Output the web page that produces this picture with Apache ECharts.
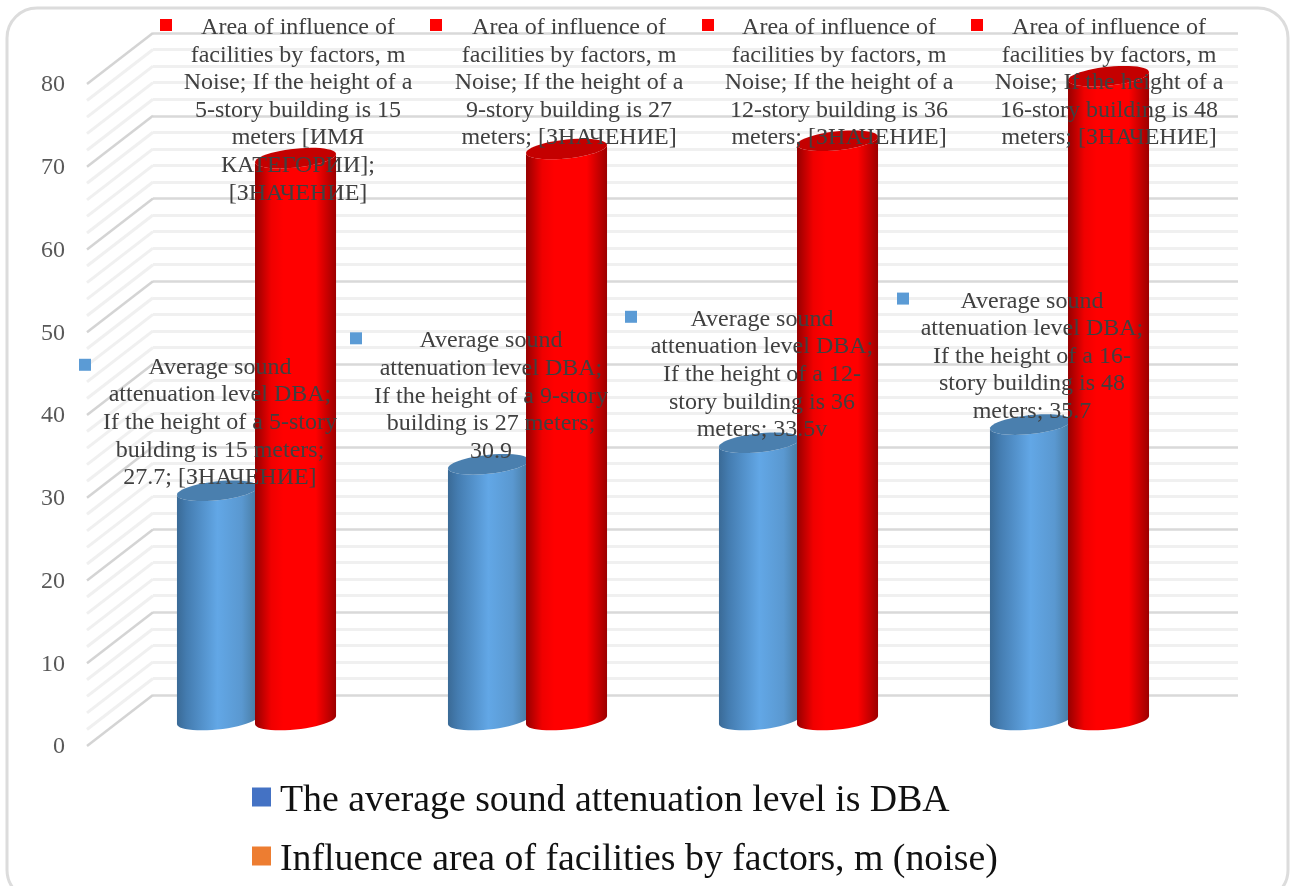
<!DOCTYPE html>
<html>
<head>
<meta charset="utf-8">
<style>
  html, body { margin: 0; padding: 0; background: #fff; }
  #chart { width: 1295px; height: 886px; }
</style>
<script src="https://cdn.jsdelivr.net/npm/echarts@6/dist/echarts.min.js"></script>
</head>
<body>
<div id="chart"></div>
<script>
const categories = [
  'If the height of a 5-story building is 15 meters',
  'If the height of a 9-story building is 27 meters',
  'If the height of a 12-story building is 36 meters',
  'If the height of a 16-story building is 48 meters'
];
const soundLevel = [27.7, 30.9, 33.5, 35.7];
const influenceArea = [67.9, 69, 70, 77.8];
const wallTicks = [0, 2, 4, 6, 8, 10, 12, 14, 16, 18, 20, 22, 24, 26, 28, 30, 32, 34, 36, 38, 40,
  42, 44, 46, 48, 50, 52, 54, 56, 58, 60, 62, 64, 66, 68, 70, 72, 74, 76, 78, 80];
const legendNames = ['The average sound attenuation level is DBA', 'Influence area of facilities by factors, m (noise)'];
const soundLabels = [
  'Average sound\nattenuation level DBA;\nIf the height of a 5-story\nbuilding is 15 meters;\n27.7; [ЗНАЧЕНИЕ]',
  'Average sound\nattenuation level DBA;\nIf the height of a 9-story\nbuilding is 27 meters;\n30.9',
  'Average sound\nattenuation level DBA;\nIf the height of a 12-\nstory building is 36\nmeters; 33.5v',
  'Average sound\nattenuation level DBA;\nIf the height of a 16-\nstory building is 48\nmeters; 35.7'
];
const areaLabels = [
  'Area of influence of\nfacilities by factors, m\nNoise; If the height of a\n5-story building is 15\nmeters [ИМЯ\nКАТЕГОРИИ];\n[ЗНАЧЕНИЕ]',
  'Area of influence of\nfacilities by factors, m\nNoise; If the height of a\n9-story building is 27\nmeters; [ЗНАЧЕНИЕ]',
  'Area of influence of\nfacilities by factors, m\nNoise; If the height of a\n12-story building is 36\nmeters; [ЗНАЧЕНИЕ]',
  'Area of influence of\nfacilities by factors, m\nNoise; If the height of a\n16-story building is 48\nmeters; [ЗНАЧЕНИЕ]'
];

const SERIF = '"Liberation Serif", "Times New Roman", serif';
const BAR_OFFSET = 0.144; // share of the band between the bar centre and the band centre
const BAR_WIDTH = 0.299;

// the labels were moved by hand in the source chart, so they don't sit evenly on the bars
const soundLabelShift = [2.5, 2.5, 2.5, 1.5];
const soundKeyShift = [-135, -135, -131, -129];
const areaLabelShift = [2.5, 2.5, 1.5, 0.5];
const areaKeyShift = [-132, -133, -131, -132];

function verticalShade(stops) {
  return new echarts.graphic.LinearGradient(0, 0, 1, 0,
    stops.map(([offset, color]) => ({ offset, color })));
}

const blueShade = [[0, '#3a6a96'], [0.12, '#447cb0'], [0.5, '#62a7e6'], [0.8, '#5a98d0'], [1, '#47799f']];
const redShade = [[0, '#960000'], [0.2, '#f00000'], [0.35, '#ff0000'], [0.75, '#ff0000'], [1, '#9c0000']];

// tilted ellipse points, right side sits higher than the left one
function ellipsePoint(cx, cy, a, b, t) {
  return [cx + a * Math.cos(t), cy - 0.1 * a * Math.cos(t) + b * Math.sin(t)];
}

function cylinderItem(side, shade, capColor) {
  return (params, api) => {
    const base = api.coord([api.value(0), 0]);
    const top = api.coord([api.value(0), api.value(1)]);
    const band = api.size([1, 0])[0];
    const cx = base[0] + side * band * BAR_OFFSET;
    const a = band * BAR_WIDTH / 2;
    const b = 9.5;
    const body = [];
    for (let i = 0; i <= 24; i++) {
      body.push(ellipsePoint(cx, base[1], a, b, (Math.PI * i) / 24));
    }
    body.push(ellipsePoint(cx, top[1], a, b, Math.PI));
    for (let i = 24; i >= 0; i--) {
      body.push(ellipsePoint(cx, top[1], a, b, (Math.PI * i) / 24));
    }
    const cap = [];
    for (let i = 0; i < 48; i++) {
      cap.push(ellipsePoint(cx, top[1], a, b, (Math.PI * i) / 24));
    }
    return {
      type: 'group',
      children: [
        { type: 'polygon', shape: { points: body }, style: { fill: verticalShade(shade) } },
        { type: 'polygon', shape: { points: cap }, style: { fill: capColor } }
      ]
    };
  };
}

function labelItem(side, labels, textShift, keyShift, keyColor, topFor) {
  return (params, api) => {
    const i = params.dataIndex;
    const base = api.coord([api.value(0), 0]);
    const top = api.coord([api.value(0), api.value(1)]);
    const band = api.size([1, 0])[0];
    const cx = base[0] + side * band * BAR_OFFSET + textShift[i];
    const y = topFor(top[1]);
    return {
      type: 'group',
      children: [
        {
          type: 'rect',
          shape: { x: cx + keyShift[i] - 6, y: y + 5, width: 12, height: 12 },
          style: { fill: keyColor }
        },
        {
          type: 'text',
          x: cx,
          y,
          style: {
            text: labels[i],
            font: '24px ' + SERIF,
            lineHeight: 27.6,
            fill: '#404040',
            align: 'center',
            verticalAlign: 'top'
          }
        }
      ]
    };
  };
}

function toPairs(values) {
  return values.map((v, i) => [i, v]);
}

const option = {
  animation: false,
  backgroundColor: '#fff',
  graphic: [{
    type: 'rect',
    z: -10,
    silent: true,
    shape: { x: 7, y: 8, width: 1281, height: 892, r: 30 },
    style: { fill: '#fff', stroke: '#dcdcdc', lineWidth: 3 }
  }],
  grid: [
    { left: 153, right: 57, top: 33, bottom: 191 }, // back wall
    { left: 87, right: 57, top: 85, bottom: 139 }, // front edge with tick labels
    { left: 121, right: 90, top: 58, bottom: 166 } // plane the cylinders stand on
  ],
  xAxis: [
    { gridIndex: 0, type: 'category', data: categories, show: false },
    { gridIndex: 1, type: 'category', data: categories, show: false },
    { gridIndex: 2, type: 'category', data: categories, show: false }
  ],
  yAxis: [
    {
      gridIndex: 0, type: 'value', min: 0, max: 80, interval: 10,
      axisLine: { show: false }, axisTick: { show: false }, axisLabel: { show: false },
      splitLine: { show: true, lineStyle: { color: '#d9d9d9', width: 2.5 } },
      minorTick: { show: false, splitNumber: 5 },
      minorSplitLine: { show: true, lineStyle: { color: '#f0f0f0', width: 3 } }
    },
    {
      gridIndex: 1, type: 'value', min: 0, max: 80, interval: 10,
      axisLine: { show: false }, axisTick: { show: false }, splitLine: { show: false },
      axisLabel: { color: '#595959', fontFamily: SERIF, fontSize: 24, margin: 22 }
    },
    { gridIndex: 2, type: 'value', min: 0, max: 80, interval: 10, show: false, splitLine: { show: false } }
  ],
  legend: {
    orient: 'vertical',
    left: 252,
    top: 774,
    padding: 0,
    itemWidth: 19,
    itemHeight: 19,
    itemGap: 13,
    icon: 'rect',
    selectedMode: false,
    formatter: '{t|{name}}',
    textStyle: {
      color: '#111',
      rich: { t: { color: '#111', fontFamily: SERIF, fontSize: 37.8, lineHeight: 40, padding: [8, 0, 0, 4] } }
    },
    data: [
      { name: legendNames[0], itemStyle: { color: '#4472c4' } },
      { name: legendNames[1], itemStyle: { color: '#ed7d31' } }
    ]
  },
  series: [
    {
      // receding wall lines on the left side
      type: 'custom',
      xAxisIndex: 0, yAxisIndex: 0, silent: true, z: 1,
      data: wallTicks.map((v) => [0, v]),
      encode: { x: 0, y: 1 },
      renderItem(params, api) {
        const value = api.value(1);
        const y = api.coord([0, value])[1];
        const major = value % 10 === 0;
        return {
          type: 'line',
          shape: { x1: params.coordSys.x, y1: y, x2: params.coordSys.x - 66, y2: y + 51 },
          style: { stroke: major ? '#d4d4d4' : '#f0f0f0', lineWidth: major ? 2.5 : 3 }
        };
      }
    },
    {
      name: legendNames[0], type: 'custom', xAxisIndex: 2, yAxisIndex: 2, z: 3,
      data: toPairs(soundLevel), encode: { x: 0, y: 1 },
      renderItem: cylinderItem(-1, blueShade, '#4a7fae')
    },
    {
      name: legendNames[1], type: 'custom', xAxisIndex: 2, yAxisIndex: 2, z: 4,
      data: toPairs(influenceArea), encode: { x: 0, y: 1 },
      renderItem: cylinderItem(1, redShade, '#c40000')
    },
    {
      type: 'custom', xAxisIndex: 2, yAxisIndex: 2, z: 6, silent: true,
      data: toPairs(soundLevel), encode: { x: 0, y: 1 },
      renderItem: labelItem(-1, soundLabels, soundLabelShift, soundKeyShift, '#5b9bd5', (t) => t - 137)
    },
    {
      type: 'custom', xAxisIndex: 2, yAxisIndex: 2, z: 6, silent: true,
      data: toPairs(influenceArea), encode: { x: 0, y: 1 },
      renderItem: labelItem(1, areaLabels, areaLabelShift, areaKeyShift, '#ff0000', () => 14)
    }
  ]
};

const chart = echarts.init(document.getElementById('chart'), null, { renderer: 'canvas' });
chart.setOption(option);
</script>
</body>
</html>
